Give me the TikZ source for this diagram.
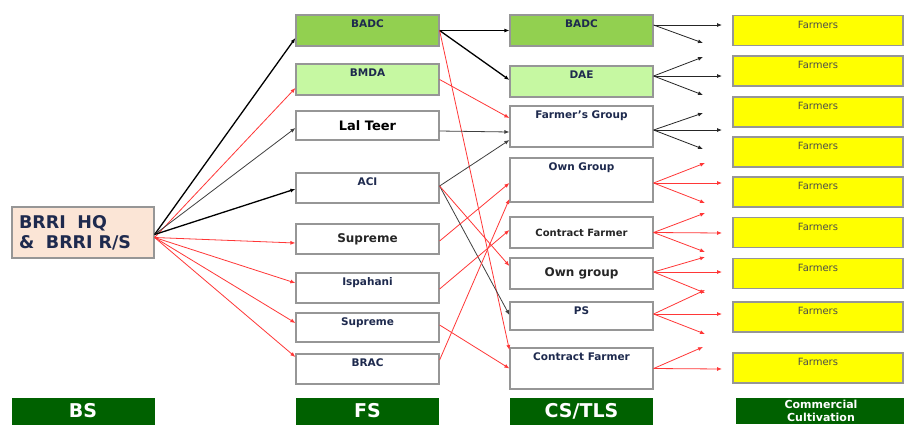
\documentclass[tikz,border=0pt]{standalone}
\usepackage{fontspec}
\setmainfont{DejaVu Sans}
\usepackage{tikz}
\usetikzlibrary{arrows.meta}

\definecolor{labelnavy}{RGB}{30,42,78}
\definecolor{boxline}{RGB}{150,150,150}
\definecolor{badcgreen}{RGB}{146,208,80}
\definecolor{paleg}{RGB}{198,248,162}
\definecolor{hqpeach}{RGB}{251,229,214}
\definecolor{farmyellow}{RGB}{255,255,0}
\definecolor{footgreen}{RGB}{0,97,0}
\definecolor{linkred}{RGB}{255,55,55}

\newcommand\boxfont{\bfseries\fontsize{10.5}{12}\selectfont}
\newcommand\hqfont{\bfseries\fontsize{17.5}{20}\selectfont}
\newcommand\lalfont{\bfseries\fontsize{13}{15}\selectfont}
\newcommand\midfont{\bfseries\fontsize{12}{14}\selectfont}
\newcommand\cffont{\bfseries\fontsize{10}{12}\selectfont}
\newcommand\farmfont{\fontsize{10}{12}\selectfont}
\newcommand\footfont{\bfseries\fontsize{19}{20}\selectfont}
\newcommand\commfont{\bfseries\fontsize{11}{12.5}\selectfont}

\begin{document}
\begin{tikzpicture}[x=1pt,y=-1pt,>={Latex[length=5pt,width=4pt]},
  box/.style={draw=boxline,line width=1.2pt,inner sep=0pt,minimum width=143pt,font=\boxfont,text=labelnavy},
  toptext/.style={text height=12.5pt,text depth=#1},
  farm/.style={draw=boxline,line width=1.2pt,fill=farmyellow,inner sep=0pt,minimum width=170pt,text height=12.5pt,text depth=17.5pt,font=\farmfont,text=black!70},
  foot/.style={fill=footgreen,text=white,inner sep=0pt,minimum width=143pt,minimum height=38pt,font=\footfont},
  thk/.style={->,line width=1.3pt,black},
  gry/.style={->,line width=0.8pt,black!75},
  rd/.style={->,line width=0.8pt,linkred}]
\path[use as bounding box] (0,0) rectangle (904,424);
\clip (0,0) rectangle (904,424);
\fill[white] (0,0) rectangle (904,424);

\node[box,fill=hqpeach,minimum width=142pt,minimum height=51pt,text width=128pt,align=left,font=\hqfont] (brri) at (83,232.5) {BRRI\ \ HQ\\\&\ \ BRRI R/S};

\node[box,toptext=18.5pt,fill=badcgreen] (fbadc) at (367.5,30.5) {BADC};
\node[box,toptext=18.5pt,fill=paleg] (fbmda) at (367.5,79.5) {BMDA};
\node[box,minimum height=29pt,font=\lalfont,text=black] (flal) at (367.5,125.5) {Lal Teer};
\node[box,toptext=17.5pt] (faci) at (367.5,188) {ACI};
\node[box,minimum height=30pt,font=\midfont,text=black!85] (fsup) at (367.5,239) {Supreme};
\node[box,toptext=17.5pt] (fisp) at (367.5,288) {Ispahani};
\node[box,toptext=16.5pt] (fsup2) at (367.5,327.5) {Supreme};
\node[box,toptext=17.5pt] (fbrac) at (367.5,369) {BRAC};

\node[box,toptext=18.5pt,fill=badcgreen] (cbadc) at (581.5,30.5) {BADC};
\node[box,toptext=18.5pt,fill=paleg] (cdae) at (581.5,81.5) {DAE};
\node[box,toptext=28.5pt] (cfgroup) at (581.5,126.5) {Farmer's Group};
\node[box,toptext=31.5pt] (cown) at (581.5,180) {Own Group};
\node[box,minimum height=31pt,font=\cffont,text=black!85] (ccontract) at (581.5,232.5) {Contract Farmer};
\node[box,minimum height=31pt,font=\midfont,text=black!85] (cown2) at (581.5,273.5) {Own group};
\node[box,toptext=15.5pt] (cps) at (581.5,316) {PS};
\node[box,toptext=28.5pt] (ccontract2) at (581.5,368.5) {Contract Farmer};

\foreach \i/\y in {1/30.5,2/71,3/112,4/152,5/192,6/232.5,7/273.5,8/317,9/368}
  \node[farm] (farm\i) at (818,\y) {Farmers};

\node[foot,text height=19pt,text depth=19pt] (bs) at (83,417) {BS};
\node[foot,text height=19pt,text depth=19pt] (fs) at (367.5,417) {FS};
\node[foot,text height=19pt,text depth=19pt] (cstls) at (581.5,417) {CS/TLS};
\node[foot,minimum width=170pt,minimum height=26pt,align=center,font=\commfont] (comm) at (821,411) {Commercial\\Cultivation};

\draw[thk] ([yshift=-2pt]brri.east) -- ([yshift=-7.5pt]fbadc.west);
\draw[rd] ([yshift=-5pt]brri.east) -- ([yshift=-8.5pt]fbmda.west);
\draw[gry] ([yshift=-2pt]brri.east) -- ([yshift=-2.5pt]flal.west);
\draw[thk] ([yshift=-2pt]brri.east) -- ([yshift=-1pt]faci.west);
\draw[rd] ([yshift=-5pt]brri.east) -- ([yshift=-4pt]fsup.west);
\draw[rd] ([yshift=-5pt]brri.east) -- ([yshift=5pt]fisp.west);
\draw[rd] ([yshift=-5pt]brri.east) -- ([yshift=4.5pt]fsup2.west);
\draw[rd] ([yshift=-5pt]brri.east) -- ([yshift=12pt]fbrac.west);

\draw[thk] (fbadc.east) -- (cbadc.west);
\draw[thk] (fbadc.east) -- ([yshift=1.5pt]cdae.west);
\draw[rd] (fbadc.east) -- ([yshift=18.5pt]ccontract2.west);
\draw[rd] (fbmda.east) -- ([yshift=8.5pt]cfgroup.west);
\draw[gry] ([yshift=-5.5pt]flal.east) -- ([yshift=-5.5pt]cfgroup.west);
\draw[gry] ([yshift=2pt]faci.east) -- ([yshift=-13.5pt]cfgroup.west);
\draw[gry] ([yshift=2pt]faci.east) -- ([yshift=1pt]cps.west);
\draw[rd] ([yshift=2pt]faci.east) -- ([yshift=7.5pt]cown2.west);
\draw[rd] ([yshift=-2pt]fsup.east) -- ([yshift=-3pt]cown.west);
\draw[rd] ([yshift=-1pt]fisp.east) -- ([yshift=2.5pt]ccontract.west);
\draw[rd] ([yshift=2.5pt]fsup2.east) -- (ccontract2.west);
\draw[rd] ([yshift=9pt]fbrac.east) -- ([yshift=-19pt]cown.west);

\foreach \src/\dy/\x/\y [count=\k] in {cbadc/5.5/722/25,cbadc/5.5/703/43,
    cdae/5.5/703/57,cdae/5.5/722/76,cdae/5.5/703/95,
    cfgroup/-3.5/703/113,cfgroup/-3.5/722/130,cfgroup/-3.5/703/149}{
  \coordinate (btip\k) at (\x,\y);
  \draw[gry,black!85] ([yshift=\dy pt]\src.east) -- (btip\k);
}
\foreach \src/\dy/\x/\y [count=\k] in {cown/-3/705/163,cown/-3/722/183,cown/-3/705/203,
    ccontract/0/705/213,ccontract/0/722/233,ccontract/0/705/252,
    cown2/1.5/705/257,cown2/1.5/722/272,cown2/1.5/705/293,
    cps/2/705/290,cps/2/722/314,cps/2/705/334,
    ccontract2/0/703/347,ccontract2/0/722/369}{
  \coordinate (rtip\k) at (\x,\y);
  \draw[rd] ([yshift=\dy pt]\src.east) -- (rtip\k);
}
\end{tikzpicture}
\end{document}
